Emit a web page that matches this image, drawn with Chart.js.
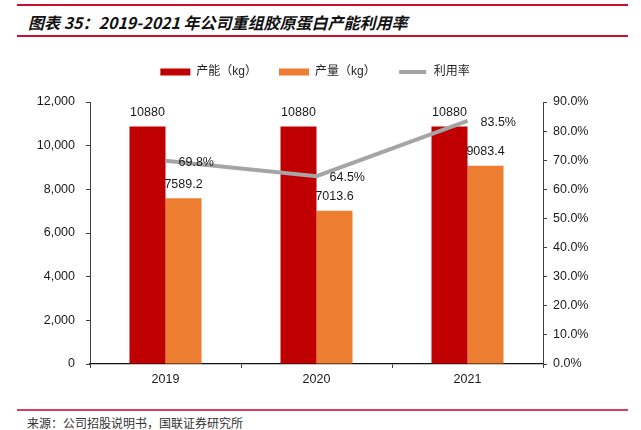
<!DOCTYPE html>
<html><head><meta charset="utf-8">
<script src="https://cdn.jsdelivr.net/npm/chart.js@4.4.1/dist/chart.umd.min.js"></script>
<style>
html,body{margin:0;padding:0;background:#fff;}
#wrap{position:relative;width:641px;height:430px;overflow:hidden;background:#fff;}
#title{position:absolute;left:28px;top:10px;font:italic bold 16px "Noto Sans CJK SC",sans-serif;color:#111;white-space:nowrap;line-height:24px;}
.rule{position:absolute;left:17px;width:611px;height:2px;background:#C8102E;}
#src{position:absolute;left:27px;top:414px;font:12px "Noto Sans CJK SC",sans-serif;color:#333;white-space:nowrap;line-height:17px;}
canvas{position:absolute;left:0;top:0;}
</style></head>
<body><div id="wrap">
<div class="rule" style="top:4px"></div>
<div id="title">图表 35：2019-2021 年公司重组胶原蛋白产能利用率</div>
<div class="rule" style="top:35px"></div>
<div class="rule" style="top:409px;background:#D63F5E"></div>
<div id="src">来源：公司招股说明书，国联证券研究所</div>
<canvas id="c" width="641" height="430"></canvas>
</div>
<script>
const categories = ['2019', '2020', '2021'];
const capacity = [10880, 10880, 10880];
const output = [7589.2, 7013.6, 9083.4];
const utilization = [0.698, 0.645, 0.835];
const capacityLabels = ['10880', '10880', '10880'];
const outputLabels = ['7589.2', '7013.6', '9083.4'];
const utilizationLabels = ['69.8%', '64.5%', '83.5%'];
const seriesNames = ['产能（kg）', '产量（kg）', '利用率'];

const NUM_FONT = '"Liberation Sans", Arial, sans-serif';
const TEXT = '#1a1a1a';
const AXIS = '#404040';

const labelSets = [capacityLabels, outputLabels, utilizationLabels];

const valueLabels = {
  id: 'valueLabels',
  afterDatasetsDraw(chart) {
    const ctx = chart.ctx;
    ctx.save();
    ctx.font = '12.5px ' + NUM_FONT;
    ctx.fillStyle = TEXT;
    ctx.textBaseline = 'middle';
    chart.data.datasets.forEach((ds, i) => {
      const meta = chart.getDatasetMeta(i);
      meta.data.forEach((el, j) => {
        const txt = labelSets[i][j];
        if (ds.type === 'line') {
          ctx.textAlign = 'left';
          ctx.fillText(txt, el.x + 13, el.y + 1.5);
        } else {
          ctx.textAlign = 'center';
          ctx.fillText(txt, el.x, el.y - 14);
        }
      });
    });
    ctx.restore();
  }
};

const legendSpacer = {
  id: 'legendSpacer',
  beforeLayout(chart) {
    const lg = chart.legend;
    if (lg && !lg._spaced) {
      const orig = lg.fit;
      lg.fit = function () { orig.call(this); this.height += 14; };
      lg._spaced = true;
    }
  }
};

new Chart(document.getElementById('c'), {
  data: {
    labels: categories,
    datasets: [
      { type: 'bar', label: seriesNames[0], data: capacity, backgroundColor: '#C00000', yAxisID: 'y', order: 1,
        categoryPercentage: 0.477, barPercentage: 1 },
      { type: 'bar', label: seriesNames[1], data: output, backgroundColor: '#ED7D31', yAxisID: 'y', order: 1,
        categoryPercentage: 0.477, barPercentage: 1 },
      { type: 'line', label: seriesNames[2], data: utilization, borderColor: '#A5A5A5', backgroundColor: '#A5A5A5',
        borderWidth: 4, pointRadius: 0, pointHoverRadius: 0, tension: 0, fill: false, yAxisID: 'y1', order: 0 }
    ]
  },
  options: {
    responsive: false,
    animation: false,
    devicePixelRatio: 1,
    layout: { padding: { top: 44, left: 0, right: 11, bottom: 0 } },
    plugins: {
      tooltip: { enabled: false },
      legend: {
        position: 'top',
        align: 'center',
        sort: (a, b) => a.datasetIndex - b.datasetIndex,
        labels: {
          boxWidth: 30, boxHeight: 7, padding: 22, color: '#222',
          font: { size: 12, family: '"Liberation Sans", "Noto Sans CJK SC", sans-serif' },
          generateLabels(chart) {
            return chart.data.datasets.map((ds, i) => {
              const isLine = ds.type === 'line';
              return {
                text: ds.label,
                fillStyle: ds.backgroundColor,
                strokeStyle: isLine ? '#ffffff' : ds.backgroundColor,
                lineWidth: isLine ? 3 : 0,
                hidden: false,
                datasetIndex: i,
                fontColor: '#222'
              };
            });
          }
        }
      }
    },
    scales: {
      x: {
        type: 'category',
        offset: true,
        afterFit(s) { s.height = 66; },
        border: { display: true, color: '#111', width: 1.3 },
        grid: { display: true, offset: true, drawOnChartArea: false, drawTicks: true, tickLength: 4, color: AXIS },
        ticks: { color: TEXT, padding: 4, font: { size: 12.5, family: NUM_FONT } }
      },
      y: {
        position: 'left',
        min: 0, max: 12000,
        afterFit(s) { s.width = 90; },
        border: { display: true, color: AXIS, width: 1 },
        grid: { drawOnChartArea: false, drawTicks: true, tickLength: 4, color: AXIS },
        ticks: { stepSize: 2000, color: TEXT, padding: 11, font: { size: 12.5, family: NUM_FONT },
          callback: v => v.toLocaleString('en-US') }
      },
      y1: {
        position: 'right',
        min: 0, max: 0.9,
        afterFit(s) { s.width = 87; },
        border: { display: true, color: AXIS, width: 1 },
        grid: { drawOnChartArea: false, drawTicks: true, tickLength: 4, color: AXIS },
        ticks: { stepSize: 0.1, color: TEXT, padding: 6, font: { size: 12.5, family: NUM_FONT },
          callback: v => (v * 100).toFixed(1) + '%' }
      }
    }
  },
  plugins: [valueLabels, legendSpacer]
});
</script>
</body></html>
